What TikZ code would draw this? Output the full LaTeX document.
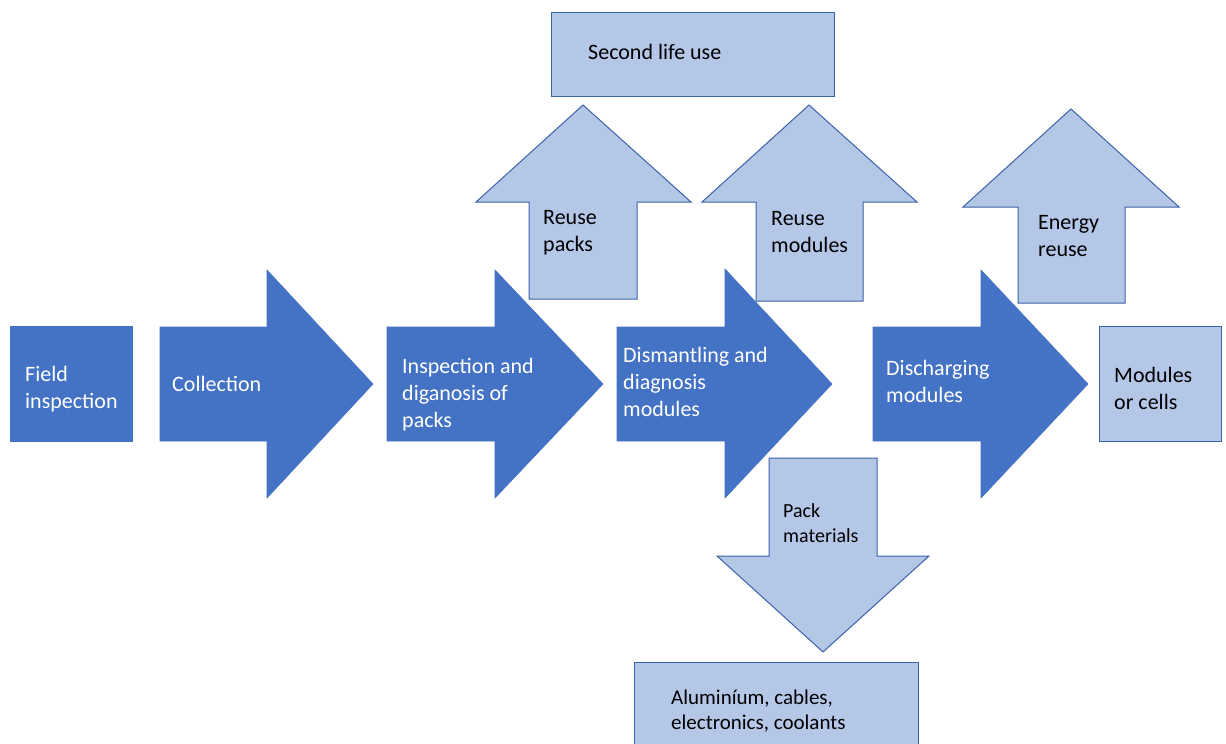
\documentclass[tikz,border=0pt]{standalone}
\usepackage{fontspec}
\setmainfont{Carlito}
\definecolor{darkblue}{HTML}{4472C4}
\definecolor{lightblue}{HTML}{B4C7E7}
\definecolor{edgeblue}{HTML}{3A63A8}
\tikzset{
  darkshape/.style={fill=darkblue, draw=darkblue, line width=0.6pt, line join=miter},
  lightshape/.style={fill=lightblue, draw=edgeblue, line width=1pt, line join=miter},
  darktext/.style={anchor=west, inner sep=0pt, align=left, text=white, font=\fontsize{22}{27}\selectfont},
  lighttext/.style={anchor=west, inner sep=0pt, align=left, text=black, font=\fontsize{22}{27}\selectfont},
  smalltext/.style={anchor=west, inner sep=0pt, align=left, text=black, font=\fontsize{20}{25}\selectfont},
}
\begin{document}
\begin{tikzpicture}[x=1pt, y=-1pt]
\useasboundingbox (0,0) rectangle (1226,744);
\fill[white] (0,0) rectangle (1226,744);
\begin{scope}
\clip (0,0) rectangle (1226,744);
% light shapes
\draw[lightshape] (551,12) rectangle (834,96);
\draw[lightshape] (529,299) -- (529,202) -- (476,202) -- (583,105) -- (691,202) -- (637,202) -- (637,299) -- cycle;
\draw[lightshape] (756,301) -- (756,202) -- (702,202) -- (809,105) -- (917,202) -- (863,202) -- (863,301) -- cycle;
\draw[lightshape] (1018,303) -- (1018,207) -- (963,207) -- (1071,109) -- (1179,207) -- (1125,207) -- (1125,303) -- cycle;
\draw[lightshape] (769,458) -- (877,458) -- (877,556) -- (929,556) -- (823,652) -- (717,556) -- (769,556) -- cycle;
\draw[lightshape] (1099,326) rectangle (1221,441);
\fill[lightblue] (634,662) rectangle (918,750);
\draw[edgeblue, line width=1pt] (634,750) -- (634,662) -- (918,662) -- (918,750);
% dark shapes
\draw[darkshape] (10,326) rectangle (132,441);
\draw[darkshape] (160,327) -- (267,327) -- (267,270) -- (373,384) -- (267,498) -- (267,441) -- (160,441) -- cycle;
\draw[darkshape] (387,327) -- (495,327) -- (495,270) -- (603,384) -- (495,498) -- (495,441) -- (387,441) -- cycle;
\draw[darkshape] (617,327) -- (725,327) -- (725,269) -- (832,384) -- (725,498) -- (725,441) -- (617,441) -- cycle;
\draw[darkshape] (873,327) -- (981,327) -- (981,270) -- (1088,384) -- (981,498) -- (981,441) -- (873,441) -- cycle;
\end{scope}
% texts
\node[darktext] (field) at (25,389) {Field\\inspection};
\node[darktext] (collection) at (172,384) {Collection};
\node[darktext] (inspection) at (402,395) {Inspection and\\diganosis of\\packs};
\node[darktext] (dismantling) at (623,382) {Dismantling and\\diagnosis\\modules};
\node[darktext] (discharging) at (886,381) {Discharging\\modules};
\node[lighttext] (cells) at (1114,388) {Modules\\or cells};
\node[lighttext] (reusepacks) at (543,233) {Reuse\\packs};
\node[lighttext] (reusemodules) at (771,232) {Reuse\\modules};
\node[lighttext] (energy) at (1038,236) {Energy\\reuse};
\node[lighttext] (second) at (588,52) {Second life use};
\node[smalltext] (packmat) at (783,523) {Pack\\materials};
\node[anchor=west, inner sep=0pt, align=left, font=\fontsize{21}{25}\selectfont] (alu) at (671,711) {Aluminíum, cables,\\electronics, coolants};
\end{tikzpicture}
\end{document}
